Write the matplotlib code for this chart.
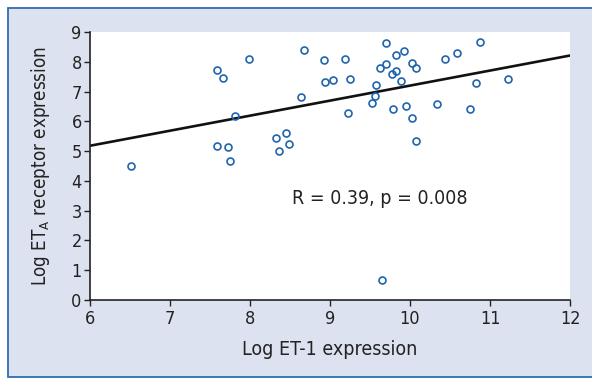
import matplotlib
matplotlib.use("Agg")
import numpy as np
import matplotlib.pyplot as plt
from matplotlib import font_manager
from matplotlib.patches import Rectangle

# values
et1 = [6.51, 7.59, 7.66, 7.81, 7.59, 7.72, 7.75, 7.99, 8.32, 8.36,
       8.45, 8.49, 8.64, 8.67, 8.93, 8.94, 9.04, 9.19, 9.25, 9.23,
       9.53, 9.56, 9.58, 9.63, 9.70, 9.70, 9.78, 9.82, 9.83, 9.79,
       9.89, 9.92, 9.95, 10.02, 10.08, 10.03, 10.07, 9.65, 10.34, 10.44,
       10.59, 10.75, 10.82, 10.87, 11.23]
eta = [4.50, 7.71, 7.44, 6.19, 5.18, 5.13, 4.68, 8.10, 5.44, 5.00,
       5.62, 5.24, 6.83, 8.41, 8.06, 7.32, 7.40, 8.10, 7.43, 6.28,
       6.60, 6.84, 7.21, 7.79, 8.64, 7.92, 7.59, 7.68, 8.24, 6.40,
       7.34, 8.37, 6.50, 7.97, 7.79, 6.12, 5.34, 0.68, 6.58, 8.10,
       8.29, 6.42, 7.29, 8.67, 7.42]
fit_x = [6, 12]
fit_y = [5.18, 8.21]
xticks = [6, 7, 8, 9, 10, 11, 12]
yticks = [0, 1, 2, 3, 4, 5, 6, 7, 8, 9]

# look for a narrow sans face, otherwise Liberation Sans
narrow = None
for f in font_manager.fontManager.ttflist:
    if f.style == 'normal' and f.weight == 400 and (
            'condensed' in str(f.stretch) or 'Narrow' in f.name
            or 'Condensed' in f.fname):
        narrow = f
        break
if narrow is not None:
    font_path = narrow.fname
    base = font_manager.FontProperties(fname=font_path)
else:
    font_path = None
    base = font_manager.FontProperties(family='Liberation Sans')
fam = base.get_name()
plt.rcParams['font.family'] = [fam, 'DejaVu Sans']
if narrow is not None:
    plt.rcParams['font.stretch'] = narrow.stretch
plt.rcParams['mathtext.fontset'] = 'custom'
plt.rcParams['mathtext.rm'] = fam


def fp(size):
    if font_path:
        return font_manager.FontProperties(fname=font_path, size=size)
    return font_manager.FontProperties(family=fam, size=size)


bg = '#dce2ef'
ink = '#222222'
fig = plt.figure(figsize=(5.92, 3.79), dpi=100, facecolor='white')
frame = Rectangle((7.5 / 592, 2 / 379), 1.0, 1 - 9.5 / 379,
                  transform=fig.transFigure, facecolor=bg,
                  edgecolor='#2f6db0', linewidth=1.3, zorder=-10)
fig.add_artist(frame)

ax = fig.add_axes([90 / 592, 1 - 300 / 379, 480 / 592, 268 / 379])
ax.set_zorder(1)
ax.set_facecolor('white')
ax.plot(et1, eta, 'o', mfc='none', mec='#1f65ae', ms=5, mew=1.2,
        clip_on=False, zorder=3)
ax.plot(fit_x, fit_y, color='#111111', lw=1.9, zorder=2)

ax.set_xlim(6, 12)
ax.set_ylim(0, 9)
ax.set_xticks(xticks)
ax.set_yticks(yticks)
for s in ['top', 'right']:
    ax.spines[s].set_visible(False)
for s in ['left', 'bottom']:
    ax.spines[s].set_linewidth(1.2)
    ax.spines[s].set_color(ink)
ax.tick_params(direction='out', length=4, width=1.0, colors=ink)
ax.tick_params(axis='x', pad=3)
ax.tick_params(axis='y', pad=2)
for lab in ax.get_xticklabels() + ax.get_yticklabels():
    lab.set_fontproperties(fp(13))

ax.set_xlabel('Log ET-1 expression', fontproperties=fp(14), color=ink,
              labelpad=9)
ax.set_ylabel('Log ET$_\\mathrm{A}$ receptor expression',
              fontproperties=fp(13.5), color=ink, labelpad=14)
ax.text(9.62, 3.42, 'R = 0.39, p = 0.008', fontproperties=fp(14),
        color=ink, ha='center', va='center')

fig.savefig('out.png', dpi=100, facecolor='white')
